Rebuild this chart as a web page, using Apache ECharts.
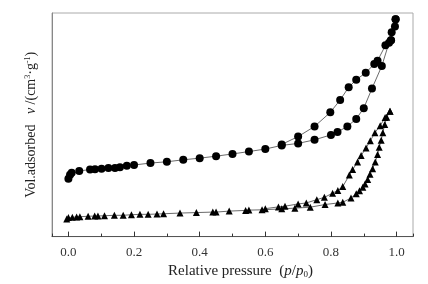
<!DOCTYPE html>
<html>
<head>
	<meta charset="utf-8">
	<title>Isotherm</title>
	<script src="https://cdn.jsdelivr.net/npm/echarts@6/dist/echarts.min.js"></script>
	<style>
		html, body { margin: 0; padding: 0; background: #fff; }
	</style>
</head>
<body>
	<div id="main" style="width: 428px; height: 284px;"></div>
	<script type="text/javascript">
		// relative pressure p/p0 and adsorbed volume (arbitrary units)
		// sample 1 (circles)
		var circAdsP = [0.0, 0.005, 0.01, 0.033, 0.066, 0.081, 0.101, 0.122, 0.142, 0.157, 0.178, 0.2, 0.25, 0.3, 0.35, 0.4, 0.45, 0.5, 0.55, 0.6, 0.65, 0.7, 0.75, 0.8, 0.82, 0.85, 0.877, 0.9, 0.925, 0.955, 0.977, 0.983, 0.985, 0.995, 0.997];
		var circAdsV = [59, 63, 65, 67, 68.3, 68.7, 69.3, 70, 70, 70.7, 72.3, 73, 75, 76.3, 78.3, 80, 82, 84.3, 86.7, 89.3, 93, 95, 98.7, 103.7, 106.7, 112.3, 120, 131, 151, 174, 197.7, 200.3, 208.3, 214.3, 221.7];
		var circDesP = [0.997, 0.983, 0.966, 0.942, 0.932, 0.906, 0.877, 0.854, 0.828, 0.798, 0.75, 0.7, 0.65];
		var circDesV = [221.7, 200.3, 195, 179.3, 176, 167, 160, 152.3, 139.3, 126.7, 112.3, 102, 94];
		// sample 2 (triangles)
		var triAdsP = [-0.005, 0.0, 0.012, 0.025, 0.035, 0.06, 0.08, 0.09, 0.11, 0.14, 0.167, 0.192, 0.218, 0.243, 0.27, 0.29, 0.34, 0.39, 0.44, 0.45, 0.49, 0.54, 0.55, 0.59, 0.65, 0.69, 0.737, 0.782, 0.821, 0.836, 0.861, 0.877, 0.887, 0.897, 0.904, 0.912, 0.919, 0.927, 0.935, 0.942, 0.947, 0.953, 0.958, 0.964, 0.97, 0.98];
		var triAdsV = [18, 19.5, 19.7, 20, 20.3, 20.7, 21, 21, 21.3, 21.7, 21.7, 22.3, 22.7, 22.7, 23, 23.3, 24, 24.5, 25, 25, 26, 26.7, 27, 27.3, 28.3, 29, 30, 32.7, 34.3, 35, 39.3, 43.7, 46.7, 50.3, 53.7, 58.3, 63.7, 69.3, 76, 83.7, 91, 98.3, 106, 114.3, 121.7, 127.7];
		var triDesP = [0.98, 0.965, 0.95, 0.934, 0.92, 0.907, 0.892, 0.881, 0.866, 0.856, 0.836, 0.821, 0.805, 0.78, 0.757, 0.725, 0.7, 0.66, 0.64, 0.6];
		var triDesV = [127.7, 121.5, 113, 106, 97.7, 90.3, 82.7, 76, 68.3, 62.7, 51, 47, 44.3, 40, 37.7, 34.3, 33.3, 31, 30.3, 28.5];

		var serif = 'Liberation Serif, Times New Roman, serif';

		function pairs(xs, ys) {
			var res = [];
			for (var i = 0; i < xs.length; i++) {
				res.push([xs[i], ys[i]]);
			}
			return res;
		}

		function branch(name, symbol, size, xs, ys) {
			return {
				name: name,
				type: 'line',
				data: pairs(xs, ys),
				symbol: symbol,
				symbolSize: size,
				showAllSymbol: true,
				itemStyle: { color: '#000' },
				lineStyle: { color: '#444', width: 0.8 },
				z: 3
			};
		}

		var chart = echarts.init(document.getElementById('main'));
		var option = {
			backgroundColor: '#fff',
			animation: false,
			grid: {
				left: 52,
				right: 15,
				top: 13,
				bottom: 43,
				show: true,
				borderColor: '#aaa',
				borderWidth: 1
			},
			xAxis: [{
				type: 'value',
				position: 'bottom',
				min: -0.05,
				max: 1.05,
				splitNumber: 5,
				name: '{t|Relative pressure  (}{i|p}{t|/}{i|p}{s|0}{t|)}',
				nameLocation: 'middle',
				nameGap: 26,
				nameTextStyle: {
					padding: [0, 0, 0, 16],
					rich: {
						t: { fontFamily: serif, fontSize: 15, color: '#222' },
						i: { fontFamily: serif, fontSize: 15, fontStyle: 'italic', color: '#222' },
						s: { fontFamily: serif, fontSize: 9, color: '#222', verticalAlign: 'bottom', padding: [7, 0, 0, 0] }
					}
				},
				axisLine: { onZero: false, lineStyle: { color: '#555', width: 1 } },
				axisTick: { inside: true, length: 5, lineStyle: { color: '#333' } },
				axisLabel: {
					showMinLabel: false,
					showMaxLabel: false,
					margin: 9,
					fontFamily: serif,
					fontSize: 13,
					color: '#333',
					formatter: function (v) { return v.toFixed(1); }
				},
				splitLine: { show: false }
			}, {
				// minor ticks every 0.1
				type: 'value',
				position: 'bottom',
				min: -0.05,
				max: 1.05,
				splitNumber: 11,
				axisLine: { show: false, onZero: false },
				axisTick: { inside: true, length: 3, lineStyle: { color: '#333' } },
				axisLabel: { show: false },
				splitLine: { show: false }
			}],
			yAxis: {
				type: 'value',
				min: 0,
				max: 228,
				name: '{t|Vol.adsorbed   }{i|v}{t| /(cm}{sup|3}{t|·g}{sup|-1}{t|)}',
				nameLocation: 'middle',
				nameGap: 14,
				nameRotate: 90,
				nameTextStyle: {
					rich: {
						t: { fontFamily: serif, fontSize: 14, color: '#222' },
						i: { fontFamily: serif, fontSize: 14, fontStyle: 'italic', color: '#222' },
						sup: { fontFamily: serif, fontSize: 8, color: '#222', verticalAlign: 'top', padding: [0, 0, 6, 0] }
					}
				},
				axisLine: { show: true, onZero: false, lineStyle: { color: '#888', width: 1 } },
				axisTick: { show: false },
				axisLabel: { show: false },
				splitLine: { show: false }
			},
			series: [
				branch('circle adsorption', 'circle', 8, circAdsP, circAdsV),
				branch('circle desorption', 'circle', 8, circDesP, circDesV),
				branch('triangle adsorption', 'triangle', 7, triAdsP, triAdsV),
				branch('triangle desorption', 'triangle', 7, triDesP, triDesV)
			]
		};
		chart.setOption(option);
	</script>
</body>
</html>
